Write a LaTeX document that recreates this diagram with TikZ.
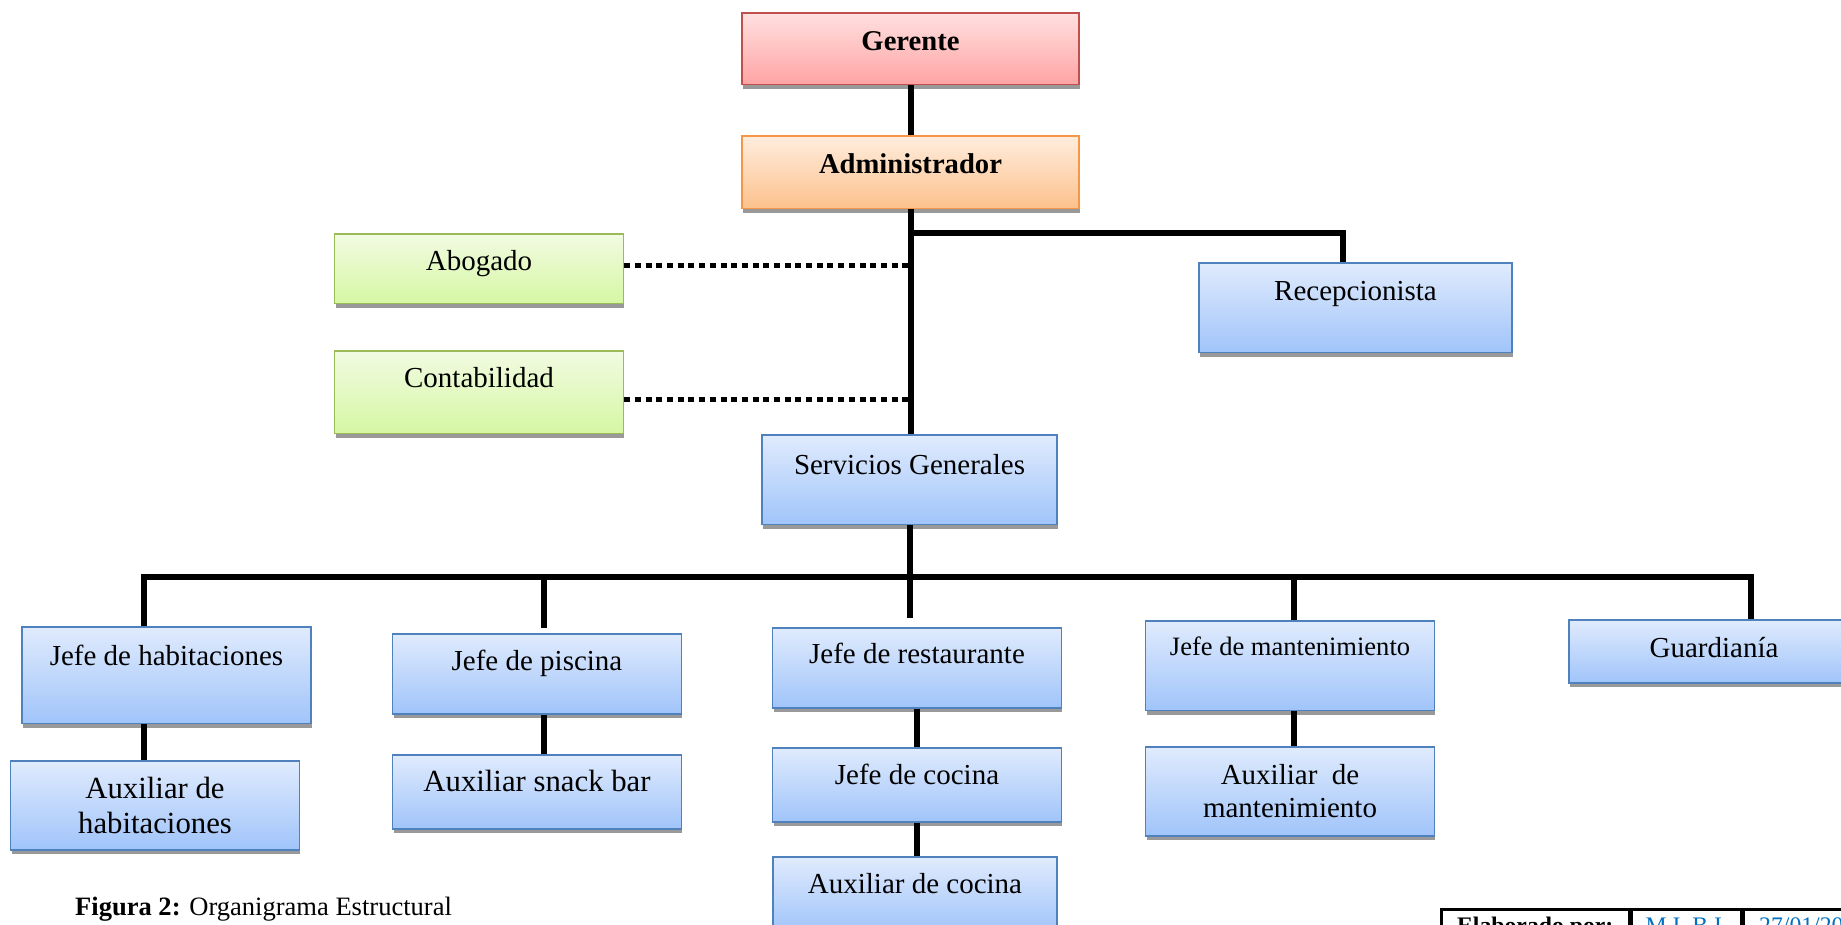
\documentclass[tikz,border=0pt]{standalone}
\usepackage{fontspec}
\setmainfont{Liberation Serif}
\usetikzlibrary{shadows}
\definecolor{redtop}{RGB}{255,224,224}
\definecolor{redbot}{RGB}{255,163,163}
\definecolor{rededge}{RGB}{192,80,77}
\definecolor{orgtop}{RGB}{255,237,222}
\definecolor{orgbot}{RGB}{252,193,140}
\definecolor{orgedge}{RGB}{247,150,70}
\definecolor{grntop}{RGB}{241,251,226}
\definecolor{grnbot}{RGB}{214,247,163}
\definecolor{grnedge}{RGB}{155,187,89}
\definecolor{blutop}{RGB}{224,235,253}
\definecolor{blubot}{RGB}{160,196,250}
\definecolor{bluedge}{RGB}{79,129,189}
\definecolor{datecol}{RGB}{0,112,192}

\begin{document}
\begin{tikzpicture}[x=0.02cm, y=-0.02cm,
  box/.style={draw, line width=0.03cm, anchor=north, inner ysep=0pt,
    minimum width=5.78cm, font=\fontsize{16.5}{19.8}\selectfont,
    drop shadow={shadow xshift=0.02cm, shadow yshift=-0.08cm, fill=gray!80, opacity=1}},
  pad/.style 2 args={text height=#1, text depth=#2},
  headbox/.style={box, draw=rededge, top color=redtop, bottom color=redbot,
    minimum width=6.74cm, font=\fontsize{16.3}{19.6}\selectfont},
  admbox/.style={box, draw=orgedge, top color=orgtop, bottom color=orgbot,
    minimum width=6.74cm, font=\fontsize{16.3}{19.6}\selectfont},
  advbox/.style={box, draw=grnedge, top color=grntop, bottom color=grnbot},
  unitbox/.style={box, draw=bluedge, top color=blutop, bottom color=blubot},
  cell/.style={draw, line width=0.05cm, anchor=north west, inner ysep=0pt,
    text height=0.48cm, text depth=0.5cm, font=\fontsize{13.5}{16}\selectfont},
  link/.style={line width=0.12cm},
  dots/.style={line width=0.1cm, dash pattern=on 0.12cm off 0.094cm}]
  \useasboundingbox (0,0) rectangle (1841,924);
  \clip (0,0) rectangle (1841,924);

  % top of the chart
  \node[headbox, pad={0.76cm}{0.68cm}] (ger) at (910.5,12) {\textbf{Gerente}};
  \node[admbox, pad={0.76cm}{0.70cm}] (adm) at (910.5,135) {\textbf{Administrador}};
  \node[advbox, pad={0.74cm}{0.66cm}] (abo) at (479,233) {Abogado};
  \node[advbox, pad={0.74cm}{0.92cm}] (con) at (479,350) {Contabilidad};
  \node[unitbox, minimum width=6.26cm, pad={0.76cm}{1.04cm}] (rec) at (1355.5,262) {Recepcionista};
  \node[unitbox, minimum width=5.9cm, pad={0.80cm}{1.00cm}] (ser) at (909.5,434) {Servicios Generales};

  % departments
  \node[unitbox, pad={0.78cm}{1.16cm}] (jhab) at (166.5,626) {Jefe de habitaciones};
  \node[unitbox, align=center, minimum height=1.78cm, font=\fontsize{17.5}{19.9}\selectfont] (ahab) at (155,760) {Auxiliar de\\habitaciones};
  \node[unitbox, pad={0.74cm}{0.86cm}] (jpis) at (537,633) {Jefe de piscina};
  \node[unitbox, pad={0.74cm}{0.74cm}, font=\fontsize{17.5}{21}\selectfont] (asn) at (537,754) {Auxiliar snack bar};
  \node[unitbox, pad={0.72cm}{0.88cm}] (jres) at (917,627) {Jefe de restaurante};
  \node[unitbox, pad={0.74cm}{0.74cm}] (jcoc) at (917,747) {Jefe de cocina};
  \node[unitbox, minimum width=5.68cm, pad={0.74cm}{0.76cm}] (acoc) at (915,856) {Auxiliar de cocina};
  \node[unitbox, pad={0.70cm}{1.10cm}, font=\fontsize{15.1}{18}\selectfont] (jman) at (1290,620) {Jefe de mantenimiento};
  \node[unitbox, align=center, minimum height=1.78cm, font=\fontsize{16.5}{18.7}\selectfont] (aman) at (1290,746) {Auxiliar\ \ de\\mantenimiento};
  \node[unitbox, minimum width=5.8cm, pad={0.76cm}{0.50cm}] (gua) at (1714,619) {Guardianía};

  % caption and signature table
  \node[anchor=base west, font=\fontsize{15.1}{18}\selectfont] (cap) at (69,915) {\textbf{Figura 2:} Organigrama Estructural};
  \node[cell, minimum width=3.76cm] (tb1) at (1440,908) {\textbf{Elaborado por:}};
  \node[cell, minimum width=2.2cm, text=datecol] (tb2) at (tb1.north east) {M.I. B.I.};
  \node[cell, inner xsep=0.3cm, text=datecol] (tb3) at (tb2.north east) {27/01/20};

  % connectors
  \coordinate (r1) at (910.5,233);
  \coordinate (d1) at (144,577);
  \coordinate (d2) at (544,577);
  \coordinate (d4) at (1294,577);
  \coordinate (d5) at (1751,577);
  \draw[link] (ger) -- (adm);
  \draw[link] (adm.south) -- (adm.south |- ser.north);
  \draw[link] (r1) -| ([xshift=-0.25cm]rec.north);
  \draw[dots] ([yshift=0.06cm]abo.east) -- ([yshift=0.06cm]abo.east -| adm.south);
  \draw[dots] ([yshift=-0.15cm]con.east) -- ([yshift=-0.15cm]con.east -| adm.south);
  \draw[link] (d1 |- jhab.north) -- (d1) -- (d5) -- (d5 |- gua.north);
  \draw[link] (ser.south) -- ([yshift=0.18cm]jres.north -| ser.south);
  \draw[link] (d2) -- ([yshift=0.1cm]jpis.north -| d2);
  \draw[link] (d4) -- (d4 |- jman.north);
  \draw[link] (jhab.south -| d1) -- (ahab.north -| d1);
  \draw[link] (jpis.south -| d2) -- (asn.north -| d2);
  \draw[link] (jres.south) -- (jcoc.north);
  \draw[link] (jcoc.south) -- (acoc.north -| jcoc.south);
  \draw[link] (jman.south -| d4) -- (aman.north -| d4);
\end{tikzpicture}
\end{document}
